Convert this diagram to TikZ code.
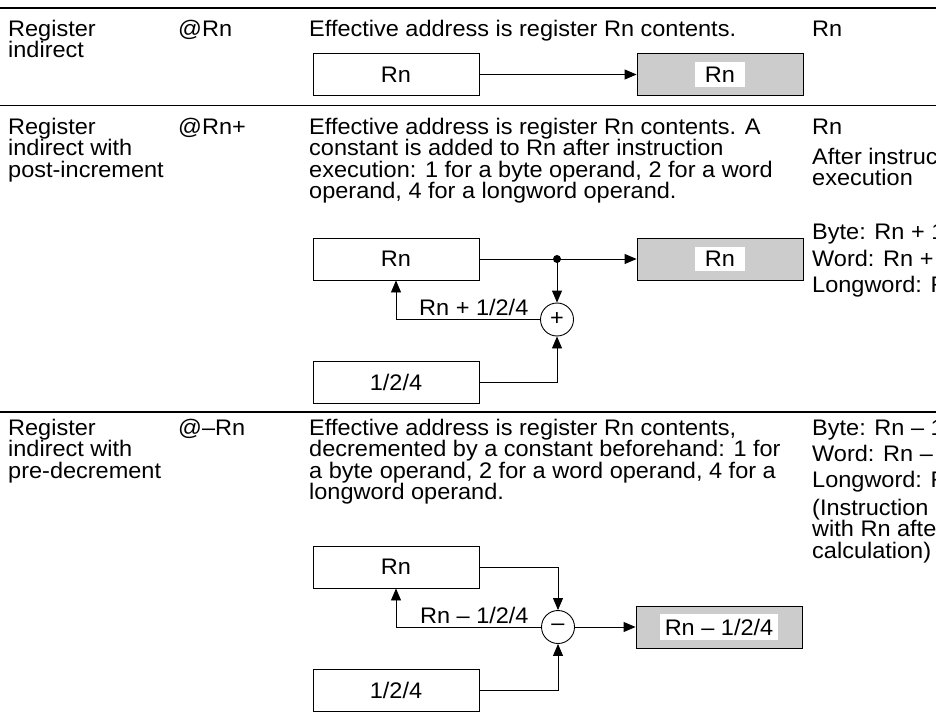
\documentclass[tikz,border=0pt]{standalone}
\usepackage{fontspec}
\setmainfont{Liberation Sans}[FakeStretch=1.045]
\usetikzlibrary{arrows.meta}
\newcommand{\cellfont}{\fontsize{22.5}{21.5}\selectfont\lineskiplimit=-50pt}
\newcommand{\cellstrut}{\rule{0pt}{16.5pt}}

\begin{document}
\begin{tikzpicture}[x=1pt,y=-1pt,
  every node/.style={font=\cellfont},
  cell/.style={anchor=north west,align=left,inner sep=0pt,yshift=16.5pt,
    execute at begin node=\cellstrut},
  reg/.style={draw,line width=0.9pt,minimum width=166pt,minimum height=42pt,inner sep=0pt},
  ea/.style={reg,fill=gray!40},
  tag/.style={fill=white,inner xsep=4.5pt,inner ysep=4.5pt},
  tagwide/.style={tag,minimum width=50pt},
  op/.style={draw,circle,line width=0.9pt,minimum size=33pt,inner sep=0pt},
  flow/.style={line width=0.9pt,-{Triangle[length=12pt,width=10pt]}},
  rule/.style={line width=1.3pt}]

  \useasboundingbox (0,0) rectangle (936,719);
  \clip (0,0) rectangle (936,719);

  \draw[rule] (0,8) -- (936,8);
  \draw[rule] (0,105.5) -- (936,105.5);
  \draw[rule] (0,412) -- (936,412);

  % register indirect
  \node[cell] (mode1) at (8,36) {Register\\indirect};
  \node[cell] (sym1) at (178,36) {@Rn};
  \node[cell] (desc1) at (309,36) {Effective address is register Rn contents.};
  \node[cell] (ea1) at (812,36) {Rn};

  \node[reg] (rn1) at (396,74.5) {Rn};
  \node[ea] (dst1) at (720,74.5) {};
  \node[tagwide] (dst1tag) at (dst1) {Rn};
  \draw[flow] (rn1) -- (dst1);

  % post-increment
  \node[cell] (mode2) at (8,134) {Register\\indirect with\\post-increment};
  \node[cell] (sym2) at (178,134) {@Rn+};
  \node[cell] (desc2) at (309,134) {Effective address is register Rn contents. A\\constant is added to Rn after instruction\\execution: 1 for a byte operand, 2 for a word\\operand, 4 for a longword operand.};
  \node[cell] (ea2) at (812,134) {Rn};
  \node[cell] (ea2a) at (812,164) {After instruction\\execution};
  \node[cell] (ea2b) at (812,239) {Byte: Rn + 1};
  \node[cell] (ea2w) at (812,266) {Word: Rn + 2};
  \node[cell] (ea2l) at (812,292) {Longword: Rn + 4};

  \node[reg] (rn2) at (396,259) {Rn};
  \node[ea] (dst2) at (720,259) {};
  \node[tagwide] (dst2tag) at (dst2) {Rn};
  \node[op] (add) at (557,319.5) {+};
  \node[reg] (inc2) at (396,382.5) {1/2/4};
  \coordinate (fork) at (add |- rn2);
  \fill (fork) circle [radius=4pt];
  \draw[flow] (rn2) -- (dst2);
  \draw[flow] (fork) -- (add);
  \draw[flow] (inc2) -| (add);
  \draw[flow] (add) -| node[pos=.23,above=3pt,inner sep=0pt] (lab2) {Rn + 1/2/4} (rn2);

  % pre-decrement
  \node[cell] (mode3) at (8,435) {Register\\indirect with\\pre-decrement};
  \node[cell] (sym3) at (178,435) {@–Rn};
  \node[cell] (desc3) at (309,435) {Effective address is register Rn contents,\\decremented by a constant beforehand: 1 for\\a byte operand, 2 for a word operand, 4 for a\\longword operand.};
  \node[cell] (ea3b) at (812,435) {Byte: Rn – 1};
  \node[cell] (ea3w) at (812,461) {Word: Rn – 2};
  \node[cell] (ea3l) at (812,487) {Longword: Rn – 4};
  \node[cell] (ea3n) at (812,515) {(Instruction\\with Rn after\\calculation)};

  \node[reg] (rn3) at (396,567) {Rn};
  \node[op] (sub) at (558,627) {–};
  \node[reg] (inc3) at (396,690) {1/2/4};
  \node[ea] (dst3) at (719,627) {};
  \node[tag] (dst3tag) at (dst3) {Rn – 1/2/4};
  \draw[flow] (rn3) -| (sub);
  \draw[flow] (inc3) -| (sub);
  \draw[flow] (sub) -| node[pos=.23,above=3pt,inner sep=0pt] (lab3) {Rn – 1/2/4} (rn3);
  \draw[flow] (sub) -- (dst3);
\end{tikzpicture}
\end{document}
